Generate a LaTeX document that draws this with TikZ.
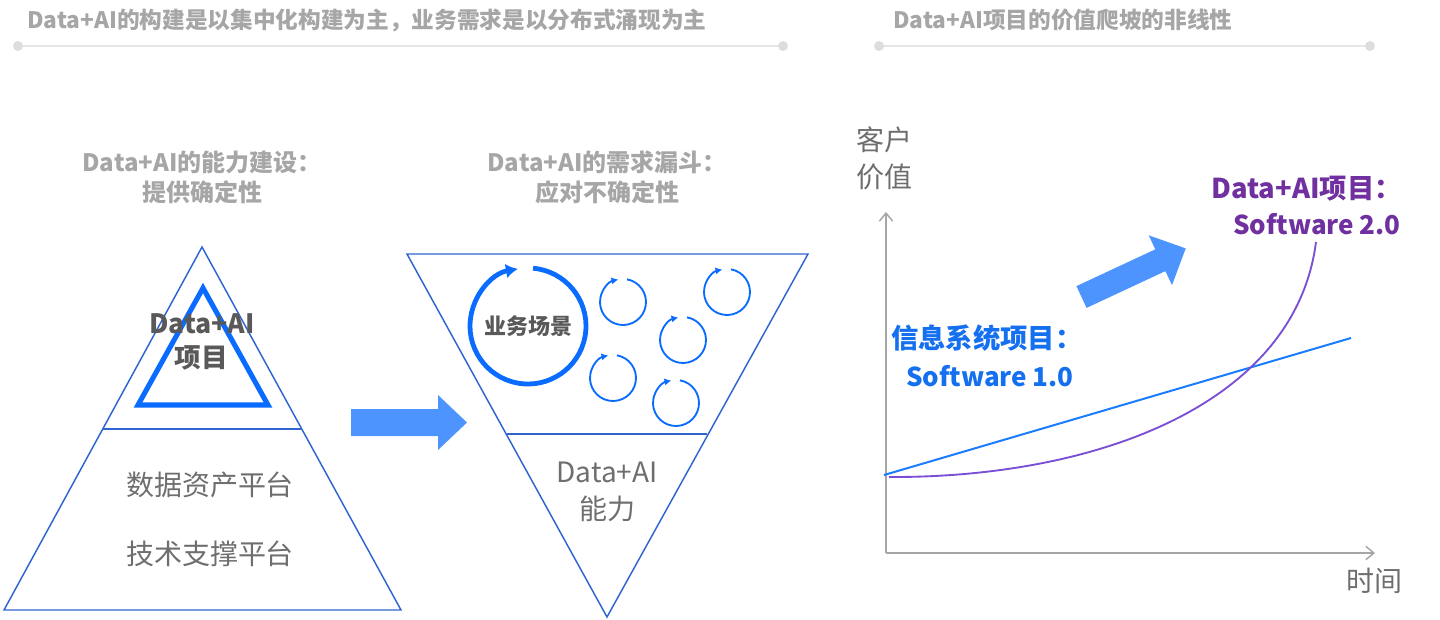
\documentclass[tikz,border=0pt]{standalone}
\usepackage{fontspec}
\setmainfont{Noto Sans CJK SC}
\usetikzlibrary{arrows.meta}
\definecolor{ttlgray}{HTML}{A6A6A6}
\definecolor{rulegray}{HTML}{E6E6E6}
\definecolor{dotgray}{HTML}{DDDDDD}
\definecolor{darkgray}{HTML}{595959}
\definecolor{midgray}{HTML}{6E6E6E}
\definecolor{axisgray}{HTML}{A6A6A6}
\definecolor{outline}{HTML}{2F65D0}
\definecolor{brightblue}{HTML}{0A6CFF}
\definecolor{arrowblue}{HTML}{4D94FF}
\definecolor{lineblue}{HTML}{1A7CFF}
\definecolor{curvepurple}{HTML}{7A4FD6}
\definecolor{textpurple}{HTML}{7030A0}
\definecolor{textblue}{HTML}{1570F0}
\begin{document}
\begin{tikzpicture}[x=0.75pt,y=-0.75pt,
  title/.style={font=\bfseries\fontsize{17}{20}\selectfont, text=ttlgray, inner sep=0},
  subtitle/.style={font=\bfseries\fontsize{18}{22}\selectfont, text=ttlgray, inner sep=0},
  graylabel/.style={font=\fontsize{21}{24}\selectfont, text=midgray, inner sep=0},
  darklabel/.style={font=\bfseries\fontsize{20}{24}\selectfont, text=darkgray, inner sep=0},
  rule/.style={line width=2.2pt, draw=rulegray, line cap=round},
  ruledot/.style={fill=dotgray, draw=none},
  shapeline/.style={draw=outline, line width=1.1pt, line join=miter},
  blockarrow/.style={fill=arrowblue, draw=none},
  bigloop/.style={draw=brightblue, line width=3.6pt, -{Latex[length=9pt,width=11pt]}},
  smallloop/.style={draw=brightblue, line width=1.4pt, -{Latex[length=5pt,width=5.5pt]}},
  axis/.style={draw=axisgray, line width=1.4pt, -{Straight Barb[length=6pt,width=10pt,line width=1.1pt]}},
  cjklabel/.style={font=\bfseries\fontsize{20.5}{24}\selectfont, inner sep=0},
  swlabel/.style={font=\bfseries\fontsize{19.5}{23}\selectfont, inner sep=0},
]
\useasboundingbox (0,0) rectangle (1440,619);

% ---------- titles and rules ----------
\node[title, anchor=west] (t1) at (27,20) {Data+AI的构建是以集中化构建为主，业务需求是以分布式涌现为主};
\node[title, anchor=west] (t2) at (893,20) {Data+AI项目的价值爬坡的非线性};
\coordinate (r1a) at (18,46); \coordinate (r1b) at (783,46);
\coordinate (r2a) at (879,46); \coordinate (r2b) at (1370,46);
\draw[rule] (r1a) -- (r1b);
\draw[rule] (r2a) -- (r2b);
\foreach \p in {r1a,r1b,r2a,r2b} \fill[ruledot] (\p) circle[radius=5];

% ---------- subtitles ----------
\node[subtitle] (s1a) at (202,162) {Data+AI的能力建设：};
\node[subtitle] (s1b) at (202,192) {提供确定性};
\node[subtitle] (s2a) at (607,162) {Data+AI的需求漏斗：};
\node[subtitle] (s2b) at (607,192) {应对不确定性};

% ---------- pyramid ----------
\coordinate (pa) at (202,247);
\coordinate (pl) at (4,610);
\coordinate (pr) at (401,610);
\coordinate (pml) at (103,429);
\coordinate (pmr) at (301,429);
\draw[shapeline] (pa) -- (pr) -- (pl) -- cycle;
\draw[shapeline] (pml) -- (pmr);
\coordinate (ia) at (203,288);
\coordinate (il) at (138,405);
\coordinate (ir) at (268,405);
\draw[draw=brightblue, line width=3.8pt, line join=miter] (ia) -- (ir) -- (il) -- cycle;
\node[darklabel] (pj1) at (202,324) {Data+AI};
\node[darklabel] (pj2) at (201,358) {项目};
\node[graylabel] (pd1) at (210,485) {数据资产平台};
\node[graylabel] (pd2) at (210,554) {技术支撑平台};

% ---------- horizontal block arrow ----------
\fill[blockarrow] (351,409) -- (438,409) -- (438,395) -- (467,422.5) -- (438,450) -- (438,436) -- (351,436) -- cycle;

% ---------- funnel ----------
\coordinate (fl) at (407,254);
\coordinate (fr) at (808,254);
\coordinate (fb) at (607,617);
\coordinate (fml) at (507,434);
\coordinate (fmr) at (707,434);
\draw[shapeline] (fl) -- (fr) -- (fb) -- cycle;
\draw[shapeline] (fml) -- (fmr);

\coordinate (bc) at (528,326);
\draw[bigloop] (bc) ++(-85:58) arc[start angle=-85, end angle=260, radius=58];
\node[font=\bfseries\fontsize{16.5}{20}\selectfont, text=darkgray, inner sep=0] (bs) at (bc) {业务场景};

\foreach \n/\cx/\cy in {c1/623/302, c2/727/292, c3/683/340, c4/613/378, c5/676/403}{
  \coordinate (\n) at (\cx,\cy);
  \draw[smallloop] (\n) ++(-80:23) arc[start angle=-80, end angle=258, radius=23];
}
\node[graylabel] (fd1) at (607,472) {Data+AI};
\node[graylabel] (fd2) at (607,509) {能力};

% ---------- chart ----------
\coordinate (o) at (886,553);
\coordinate (ytop) at (886,212);
\coordinate (xend) at (1375,553);
\draw[axis] (o) -- (ytop);
\draw[axis] (o) -- (xend);
\node[graylabel] (yl1) at (884,140) {客户};
\node[graylabel] (yl2) at (884,177) {价值};
\node[graylabel] (xl) at (1374,581) {时间};

\coordinate (b0) at (884,475);
\coordinate (b1) at (1351,338);
\draw[draw=lineblue, line width=1.5pt] (b0) -- (b1);
\coordinate (p0) at (889,477);
\coordinate (p1) at (1316,242);
\draw[draw=curvepurple, line width=1.4pt] (p0) .. controls (1095,478) and (1295,405) .. (p1);

\node[cjklabel, text=textblue, anchor=west] (l1a) at (891,338) {信息系统项目：};
\node[swlabel, text=textblue, anchor=east] (l1b) at (1074,376) {Software 1.0};
\node[cjklabel, text=textpurple, anchor=east] (l2a) at (1402,189) {Data+AI项目：};
\node[swlabel, text=textpurple, anchor=east] (l2b) at (1401,224) {Software 2.0};

\begin{scope}[shift={(1081.5,297)}, rotate=25]
\fill[blockarrow] (0,-12) -- (87,-12) -- (87,-27.5) -- (115,0) -- (87,27.5) -- (87,12) -- (0,12) -- cycle;
\end{scope}
\end{tikzpicture}
\end{document}
